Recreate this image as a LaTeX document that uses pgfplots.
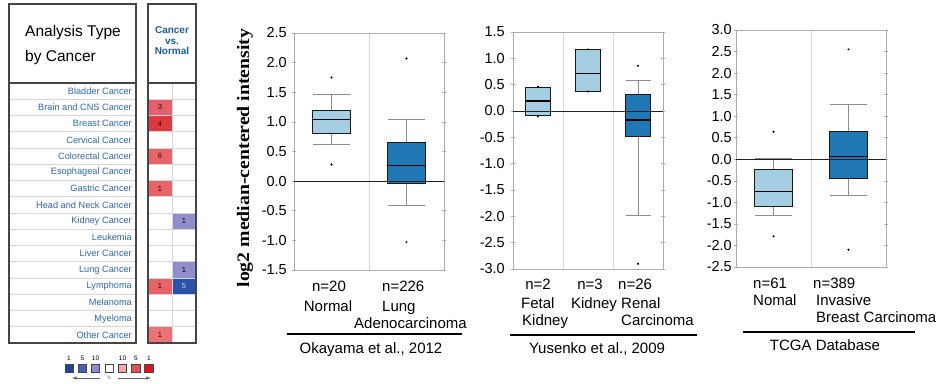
\documentclass[border=0pt]{standalone}
\usepackage{graphicx}
\usepackage{pgfplots}
\pgfplotsset{compat=1.18}
\usepgfplotslibrary{statistics}
\usepackage{fontspec}
\setmainfont{Liberation Sans}
\newfontfamily\serifface{Liberation Serif}
\definecolor{lightbox}{HTML}{A6CEE3}
\definecolor{darkbox}{HTML}{1F78B4}
\definecolor{rowblue}{HTML}{2A66B4}
\definecolor{hdrblue}{HTML}{1B5CA8}
\definecolor{tframe}{HTML}{454545}
\definecolor{tsep}{HTML}{D6D6D6}
\definecolor{cRa}{HTML}{E4606C}
\definecolor{cRb}{HTML}{DC3A40}
\definecolor{cRc}{HTML}{E6646A}
\definecolor{cBa}{HTML}{8E8ECB}
\definecolor{cBb}{HTML}{2A52A8}
\definecolor{lgA}{HTML}{25409A}
\definecolor{lgB}{HTML}{4A5CB4}
\definecolor{lgC}{HTML}{8C8CD4}
\definecolor{lgE}{HTML}{F0A8AC}
\definecolor{lgF}{HTML}{E05058}
\definecolor{lgG}{HTML}{E0141E}
\pgfplotsset{
  bxp/.style={
    scale only axis, anchor=south west, width=150pt, height=237pt,
    axis line style={draw=gray!65, line width=0.8pt},
    xtick={#1}, xticklabels={}, xmajorgrids, grid style={gray!30, line width=0.6pt},
    xtick style={draw=none},
    ytick pos=both, yticklabel pos=left,
    ytick style={draw=gray!60, line width=0.6pt}, major tick length=4pt, tick align=center,
    yticklabel style={/pgf/number format/fixed, /pgf/number format/fixed zerofill,
       /pgf/number format/precision=1, /pgf/number format/assume math mode=true},
    tick label style={font=\fontsize{14.5}{17}\selectfont, inner sep=0pt},
    boxplot/draw direction=y,
    boxplot/every whisker/.style={draw=gray!90, line width=0.7pt},
    boxplot/every median/.style={draw=black, line width=1.1pt},
    clip=false,
  },
  bx/.style={draw=gray!20!black, line width=0.6pt, fill=#1},
  outl/.style={only marks, mark=*, mark size=0.8pt, black},
}
\begin{document}
\begin{tikzpicture}
\path[use as bounding box] (0pt,0pt) rectangle (936pt,383pt);

% ---------- heat map cells ----------
\begin{axis}[at={(148pt,40pt)}, anchor=south west, scale only axis, width=48pt, height=260pt,
  xmin=0, xmax=2, ymin=0, ymax=16, y dir=reverse, hide axis, clip=false]
\addplot[fill=cRa, draw=none] coordinates {(0,1) (1,1) (1,2) (0,2)} -- cycle;
\addplot[fill=cRb, draw=none] coordinates {(0,2) (1,2) (1,3) (0,3)} -- cycle;
\addplot[fill=cRc, draw=none] coordinates {(0,4) (1,4) (1,5) (0,5)} -- cycle;
\addplot[fill=cRc, draw=none] coordinates {(0,6) (1,6) (1,7) (0,7)} -- cycle;
\addplot[fill=cBa, draw=none] coordinates {(1,8) (2,8) (2,9) (1,9)} -- cycle;
\addplot[fill=cBa, draw=none] coordinates {(1,11) (2,11) (2,12) (1,12)} -- cycle;
\addplot[fill=cRc, draw=none] coordinates {(0,12) (1,12) (1,13) (0,13)} -- cycle;
\addplot[fill=cBb, draw=none] coordinates {(1,12) (2,12) (2,13) (1,13)} -- cycle;
\addplot[fill=cRc!90!white, draw=none] coordinates {(0,15) (1,15) (1,16) (0,16)} -- cycle;
\begin{scope}[every node/.style={font=\fontsize{7.5}{8}\selectfont}]
\node[text=red!30!black] at (axis cs:0.5,1.5) {3};
\node[text=red!30!black] at (axis cs:0.5,2.5) {4};
\node[text=red!30!black] at (axis cs:0.5,4.5) {6};
\node[text=red!30!black] at (axis cs:0.5,6.5) {1};
\node[text=blue!30!black] at (axis cs:1.5,8.5) {1};
\node[text=blue!30!black] at (axis cs:1.5,11.5) {1};
\node[text=red!30!black] at (axis cs:0.5,12.5) {1};
\node[text=white!85!blue] at (axis cs:1.5,12.5) {5};
\node[text=red!30!black] at (axis cs:0.5,15.5) {1};
\end{scope}
\end{axis}

% ---------- Okayama ----------
\begin{axis}[bxp=1, at={(294pt,113pt)}, xmin=0, xmax=2, ymin=-1.5, ymax=2.5,
  ytick={-1.5,-1,-0.5,0,0.5,1,1.5,2,2.5}, yticklabel style={xshift=-5pt}]
\addplot[bx=lightbox, boxplot prepared={draw position=0.5, lower whisker=0.62, lower quartile=0.81,
  median=1.04, upper quartile=1.20, upper whisker=1.46, box extend=0.5, whisker extend=0.5}] coordinates {};
\addplot[bx=darkbox, boxplot prepared={draw position=1.5, lower whisker=-0.41, lower quartile=-0.03,
  median=0.27, upper quartile=0.65, upper whisker=1.04, box extend=0.5, whisker extend=0.5}] coordinates {};
\addplot[outl] coordinates {(0.5,1.75) (0.5,0.28) (1.5,2.07) (1.5,-1.03)};
\addplot[gray!25!black, line width=0.9pt] coordinates {(0,0) (2,0)};
\end{axis}

% ---------- Yusenko ----------
\begin{axis}[bxp={1,2}, at={(513pt,114pt)}, xmin=0, xmax=3, ymin=-3, ymax=1.5,
  ytick={-3,-2.5,-2,-1.5,-1,-0.5,0,0.5,1,1.5}, yticklabel style={xshift=-6pt}]
\addplot[bx=lightbox, boxplot prepared={draw position=0.5, lower whisker=-0.09, lower quartile=-0.09,
  median=0.19, upper quartile=0.45, upper whisker=0.45, box extend=0.5, whisker extend=0.5}] coordinates {};
\addplot[bx=lightbox, boxplot prepared={draw position=1.5, lower whisker=0.37, lower quartile=0.37,
  median=0.72, upper quartile=1.17, upper whisker=1.17, box extend=0.5, whisker extend=0.5}] coordinates {};
\addplot[bx=darkbox, boxplot prepared={draw position=2.5, lower whisker=-1.98, lower quartile=-0.48,
  median=-0.17, upper quartile=0.31, upper whisker=0.58, box extend=0.5, whisker extend=0.5}] coordinates {};
\addplot[outl] coordinates {(0.5,0.46) (0.5,-0.10) (1.5,1.17) (1.5,0.37) (2.5,0.86) (2.5,-2.90)};
\addplot[gray!25!black, line width=0.9pt] coordinates {(0,0) (3,0)};
\end{axis}

% ---------- TCGA ----------
\begin{axis}[bxp=1, at={(736pt,116pt)}, xmin=0, xmax=2, ymin=-2.5, ymax=3,
  ytick={-2.5,-2,-1.5,-1,-0.5,0,0.5,1,1.5,2,2.5,3}, yticklabel style={xshift=-2pt}]
\addplot[bx=lightbox, boxplot prepared={draw position=0.5, lower whisker=-1.30, lower quartile=-1.08,
  median=-0.74, upper quartile=-0.24, upper whisker=0.02, box extend=0.5, whisker extend=0.5}] coordinates {};
\addplot[bx=darkbox, boxplot prepared={draw position=1.5, lower whisker=-0.83, lower quartile=-0.43,
  median=0.07, upper quartile=0.65, upper whisker=1.28, box extend=0.5, whisker extend=0.5}] coordinates {};
\addplot[outl] coordinates {(0.5,0.64) (0.5,-1.79) (1.5,2.55) (1.5,-2.10)};
\addplot[gray!25!black, line width=0.9pt] coordinates {(0,0) (2,0)};
\end{axis}

% ---------- annotations in pixel coordinates ----------
\begin{scope}[x=1pt, y=-1pt, shift={(0pt,383pt)}]
  % table lines
  \foreach \k in {1,...,15} {
    \draw[tsep, line width=0.7pt] (9,{83+16.25*\k}) -- (136,{83+16.25*\k});
    \draw[tsep, line width=0.7pt] (148,{83+16.25*\k}) -- (196,{83+16.25*\k});
  }
  \draw[tsep, line width=0.7pt] (172,83) -- (172,343);
  \draw[tframe, line width=1.6pt] (9,4) rectangle (136,343);
  \draw[tframe, line width=1.6pt] (9,83) -- (136,83);
  \draw[tframe, line width=1.6pt] (148,4) rectangle (196,343);
  \draw[tframe, line width=1.6pt] (148,83) -- (196,83);
  % header
  \node[anchor=base west, inner sep=0pt, font=\fontsize{15.5}{18}\selectfont] at (25,37) {Analysis Type};
  \node[anchor=base west, inner sep=0pt, font=\fontsize{15.5}{18}\selectfont] at (25,62) {by Cancer};
  \begin{scope}[every node/.style={anchor=base, inner sep=0pt, text=hdrblue, font=\bfseries\fontsize{10}{11}\selectfont}]
    \node at (172,34) {Cancer};
    \node at (172,44.5) {vs.};
    \node at (172,54.5) {Normal};
  \end{scope}
  \foreach \t [count=\i from 0] in {Bladder Cancer, Brain and CNS Cancer, Breast Cancer, Cervical Cancer,
     Colorectal Cancer, Esophageal Cancer, Gastric Cancer, Head and Neck Cancer, Kidney Cancer, Leukemia,
     Liver Cancer, Lung Cancer, Lymphoma, Melanoma, Myeloma, Other Cancer}
    \node[anchor=east, inner sep=0pt, text=rowblue, font=\fontsize{9.2}{10}\selectfont] at (132,{83+16.25*(\i+0.5)}) {\t};
  % colour key
  \foreach \c/\xx in {lgA/65, lgB/78, lgC/91, white/105, lgE/118, lgF/131.5, lgG/144.5}
    \draw[fill=\c, draw=tframe, line width=0.6pt] (\xx,364) rectangle ++(8.5,8.5);
  \begin{scope}[every node/.style={anchor=base, inner sep=0pt, font=\fontsize{6.5}{7}\selectfont}]
    \node at (69,360) {1}; \node at (82.5,360) {5}; \node at (95.5,360) {10};
    \node at (122.5,360) {10}; \node at (136,360) {5}; \node at (149,360) {1};
  \end{scope}
  \draw[-latex, gray!80!black, line width=0.6pt] (100,378) -- (72,378);
  \draw[-latex, gray!80!black, line width=0.6pt] (118,378) -- (151,378);
  \node[inner sep=0pt, text=gray, font=\fontsize{5}{6}\selectfont] at (109,378) {\%};

  % y label
  \node[rotate=90, inner sep=0pt, font=\serifface\bfseries\fontsize{17.5}{20}\selectfont] at (245,158)
    {\scalebox{1.13}[1]{log2 median-centered intensity}};

  \begin{scope}[every node/.style={inner sep=0pt, font=\fontsize{15}{18}\selectfont}]
  % Okayama labels
  \node[anchor=base] at (329,291) {n=20};
  \node[anchor=base] at (328,311) {Normal};
  \node[anchor=base west] at (382,291) {n=226};
  \node[anchor=base west] at (382,311) {Lung};
  \node[anchor=base west] at (354,328) {Adenocarcinoma};
  \draw[black, line width=1.4pt] (287,334) -- (462,334);
  \node[anchor=base] at (371,353) {Okayama et al., 2012};
  % Yusenko labels
  \node[anchor=base] at (538,289.5) {n=2};
  \node[anchor=base west] at (521,308.5) {Fetal};
  \node[anchor=base west] at (522,325) {Kidney};
  \node[anchor=base] at (590,289.5) {n=3};
  \node[anchor=base] at (594,308.5) {Kidney};
  \node[anchor=base west] at (618,289.5) {n=26};
  \node[anchor=base west] at (621,308.5) {Renal};
  \node[anchor=base west] at (621,325) {Carcinoma};
  \draw[black, line width=1.4pt] (510,335) -- (697,335);
  \node[anchor=base] at (597,353) {Yusenko et al., 2009};
  % TCGA labels
  \node[anchor=base west] at (753,288) {n=61};
  \node[anchor=base west] at (753,305) {Nomal};
  \node[anchor=base west] at (813,288) {n=389};
  \node[anchor=base west] at (816,305) {Invasive};
  \node[anchor=base west] at (816,322.5) {Breast Carcinoma};
  \draw[black, line width=1.4pt] (743,332) -- (915,332);
  \node[anchor=base] at (825,350) {TCGA Database};
  \end{scope}
\end{scope}
\end{tikzpicture}
\end{document}
